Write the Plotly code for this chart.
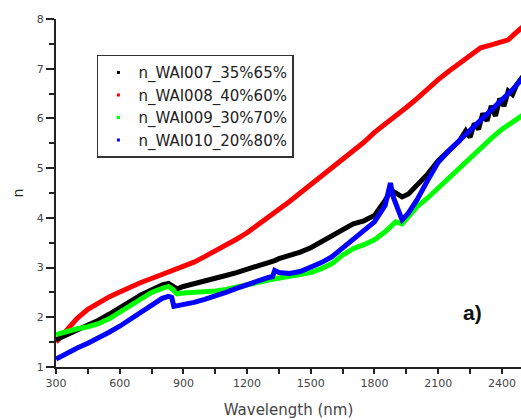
import plotly.graph_objects as go

# ---- data ----
red_x = [300, 350, 400, 450, 500, 550, 600, 650, 700, 750, 800, 850, 900, 950, 1000, 1050, 1100, 1150,
         1200, 1250, 1300, 1350, 1400, 1450, 1500, 1550, 1600, 1650, 1700, 1750, 1800, 1850, 1900, 1950,
         2000, 2050, 2100, 2150, 2200, 2250, 2300, 2350, 2400, 2430, 2460, 2500]
red_y = [1.50, 1.74, 1.98, 2.16, 2.30, 2.41, 2.51, 2.61, 2.70, 2.78, 2.86, 2.94, 3.02, 3.11, 3.22, 3.33,
         3.45, 3.57, 3.70, 3.85, 4.00, 4.16, 4.33, 4.50, 4.67, 4.84, 5.00, 5.16, 5.32, 5.52, 5.72, 5.88,
         6.05, 6.22, 6.40, 6.60, 6.78, 6.95, 7.10, 7.28, 7.42, 7.48, 7.53, 7.58, 7.70, 7.85]

black_x = [300, 350, 400, 450, 500, 550, 600, 650, 700, 750, 800, 830, 850, 870, 900, 950, 1000, 1050,
           1100, 1150, 1200, 1250, 1300, 1330, 1350, 1400, 1450, 1500, 1550, 1600, 1650, 1700, 1750,
           1800, 1850, 1880, 1900, 1930, 1960, 2000, 2050, 2100, 2150, 2200, 2230, 2250, 2270, 2290,
           2310, 2330, 2350, 2370, 2390, 2410, 2430, 2450, 2470, 2500]
black_y = [1.55, 1.65, 1.74, 1.83, 1.94, 2.06, 2.18, 2.32, 2.45, 2.56, 2.65, 2.68, 2.62, 2.57, 2.62,
           2.67, 2.73, 2.78, 2.84, 2.90, 2.96, 3.02, 3.08, 3.14, 3.18, 3.24, 3.31, 3.40, 3.52, 3.64,
           3.78, 3.88, 3.94, 4.05, 4.35, 4.55, 4.50, 4.42, 4.48, 4.66, 4.88, 5.15, 5.35, 5.55, 5.75,
           5.62, 5.90, 5.78, 6.10, 5.95, 6.25, 6.05, 6.40, 6.25, 6.55, 6.48, 6.68, 6.85]

green_x = [300, 350, 400, 450, 500, 550, 600, 650, 700, 750, 800, 830, 850, 870, 900, 950, 1000, 1050,
           1100, 1150, 1200, 1250, 1300, 1350, 1400, 1450, 1500, 1550, 1600, 1650, 1700, 1750, 1800,
           1850, 1900, 1930, 1960, 2000, 2050, 2100, 2150, 2200, 2250, 2300, 2350, 2400, 2450, 2500]
green_y = [1.65, 1.72, 1.77, 1.81, 1.87, 1.97, 2.10, 2.24, 2.38, 2.50, 2.58, 2.62, 2.56, 2.47, 2.49,
           2.50, 2.51, 2.53, 2.56, 2.60, 2.65, 2.70, 2.75, 2.79, 2.82, 2.85, 2.90, 2.98, 3.08, 3.25,
           3.38, 3.46, 3.56, 3.72, 3.92, 3.88, 4.02, 4.22, 4.40, 4.60, 4.80, 5.00, 5.22, 5.42, 5.60,
           5.78, 5.92, 6.07]

blue_x = [300, 350, 400, 450, 500, 550, 600, 650, 700, 750, 800, 830, 845, 855, 900, 950, 1000, 1050,
          1100, 1150, 1200, 1250, 1300, 1320, 1330, 1350, 1400, 1450, 1500, 1550, 1600, 1650, 1700,
          1750, 1800, 1850, 1875, 1890, 1930, 1960, 2000, 2050, 2100, 2150, 2200, 2250, 2300, 2350,
          2400, 2450, 2500]
blue_y = [1.16, 1.28, 1.38, 1.48, 1.58, 1.70, 1.82, 1.96, 2.10, 2.25, 2.38, 2.42, 2.40, 2.22, 2.25,
          2.30, 2.36, 2.42, 2.50, 2.58, 2.66, 2.73, 2.80, 2.82, 2.94, 2.90, 2.88, 2.92, 3.00, 3.10,
          3.22, 3.40, 3.56, 3.75, 3.92, 4.25, 4.70, 4.40, 3.96, 4.10, 4.36, 4.75, 5.12, 5.35, 5.55,
          5.75, 5.95, 6.15, 6.35, 6.58, 6.82]

series_names = ["n_WAI007_35%65%", "n_WAI008_40%60%", "n_WAI009_30%70%", "n_WAI010_20%80%"]
series_colors = ["#000000", "#ff0000", "#00ff00", "#0000ff"]

x_ticks = [300, 600, 900, 1200, 1500, 1800, 2100, 2400]
y_ticks = [1, 2, 3, 4, 5, 6, 7, 8]

fig = go.Figure()
data = [(black_x, black_y), (red_x, red_y), (green_x, green_y), (blue_x, blue_y)]
# draw order: red, black, green, blue on top
for idx in [1, 0, 2, 3]:
    xs, ys = data[idx]
    fig.add_trace(go.Scatter(x=xs, y=ys, mode="lines",
                             line=dict(color=series_colors[idx], width=5),
                             showlegend=False, hoverinfo="skip"))
for name, col in zip(series_names, series_colors):
    fig.add_trace(go.Scatter(x=[None], y=[None], mode="markers", name=name,
                             marker=dict(symbol="square", size=3, color=col)))

axis_common = dict(showline=True, linecolor="#222222", linewidth=2, ticks="outside",
                   tickcolor="#222222", tickwidth=1.5, showgrid=False, zeroline=False,
                   tickfont=dict(family="DejaVu Sans", size=11, color="#444444"))

fig.update_xaxes(range=[300, 2490], tickvals=x_ticks, ticklen=5,
                 minor=dict(dtick=150, tick0=150, ticks="outside", ticklen=5, tickcolor="#222222", tickwidth=1.5),
                 title=dict(text="Wavelength (nm)", font=dict(family="DejaVu Sans", size=15, color="#444444"), standoff=15),
                 **axis_common)
fig.update_yaxes(range=[1, 8], tickvals=y_ticks, ticklen=8,
                 minor=dict(dtick=0.5, tick0=0.5, ticks="outside", ticklen=5, tickcolor="#222222", tickwidth=1.5),
                 title=dict(text="n", font=dict(family="DejaVu Sans", size=14, color="#222222"), standoff=10),
                 **axis_common)

fig.add_annotation(x=0.895, y=0.158, xref="paper", yref="paper", xanchor="center", yanchor="middle",
                   text="<b>a)</b>", showarrow=False,
                   font=dict(family="Liberation Sans", size=21, color="#111111"))

fig.update_layout(
    width=521, height=420,
    margin=dict(l=56, r=0, t=19, b=53),
    paper_bgcolor="white", plot_bgcolor="white",
    legend=dict(x=0.088, y=0.897, xanchor="left", yanchor="top",
                bordercolor="#333333", borderwidth=1.5, bgcolor="white",
                font=dict(family="DejaVu Sans", size=15, color="#222222"),
                itemwidth=30, tracegroupgap=0),
)

fig.write_html("out.html")
